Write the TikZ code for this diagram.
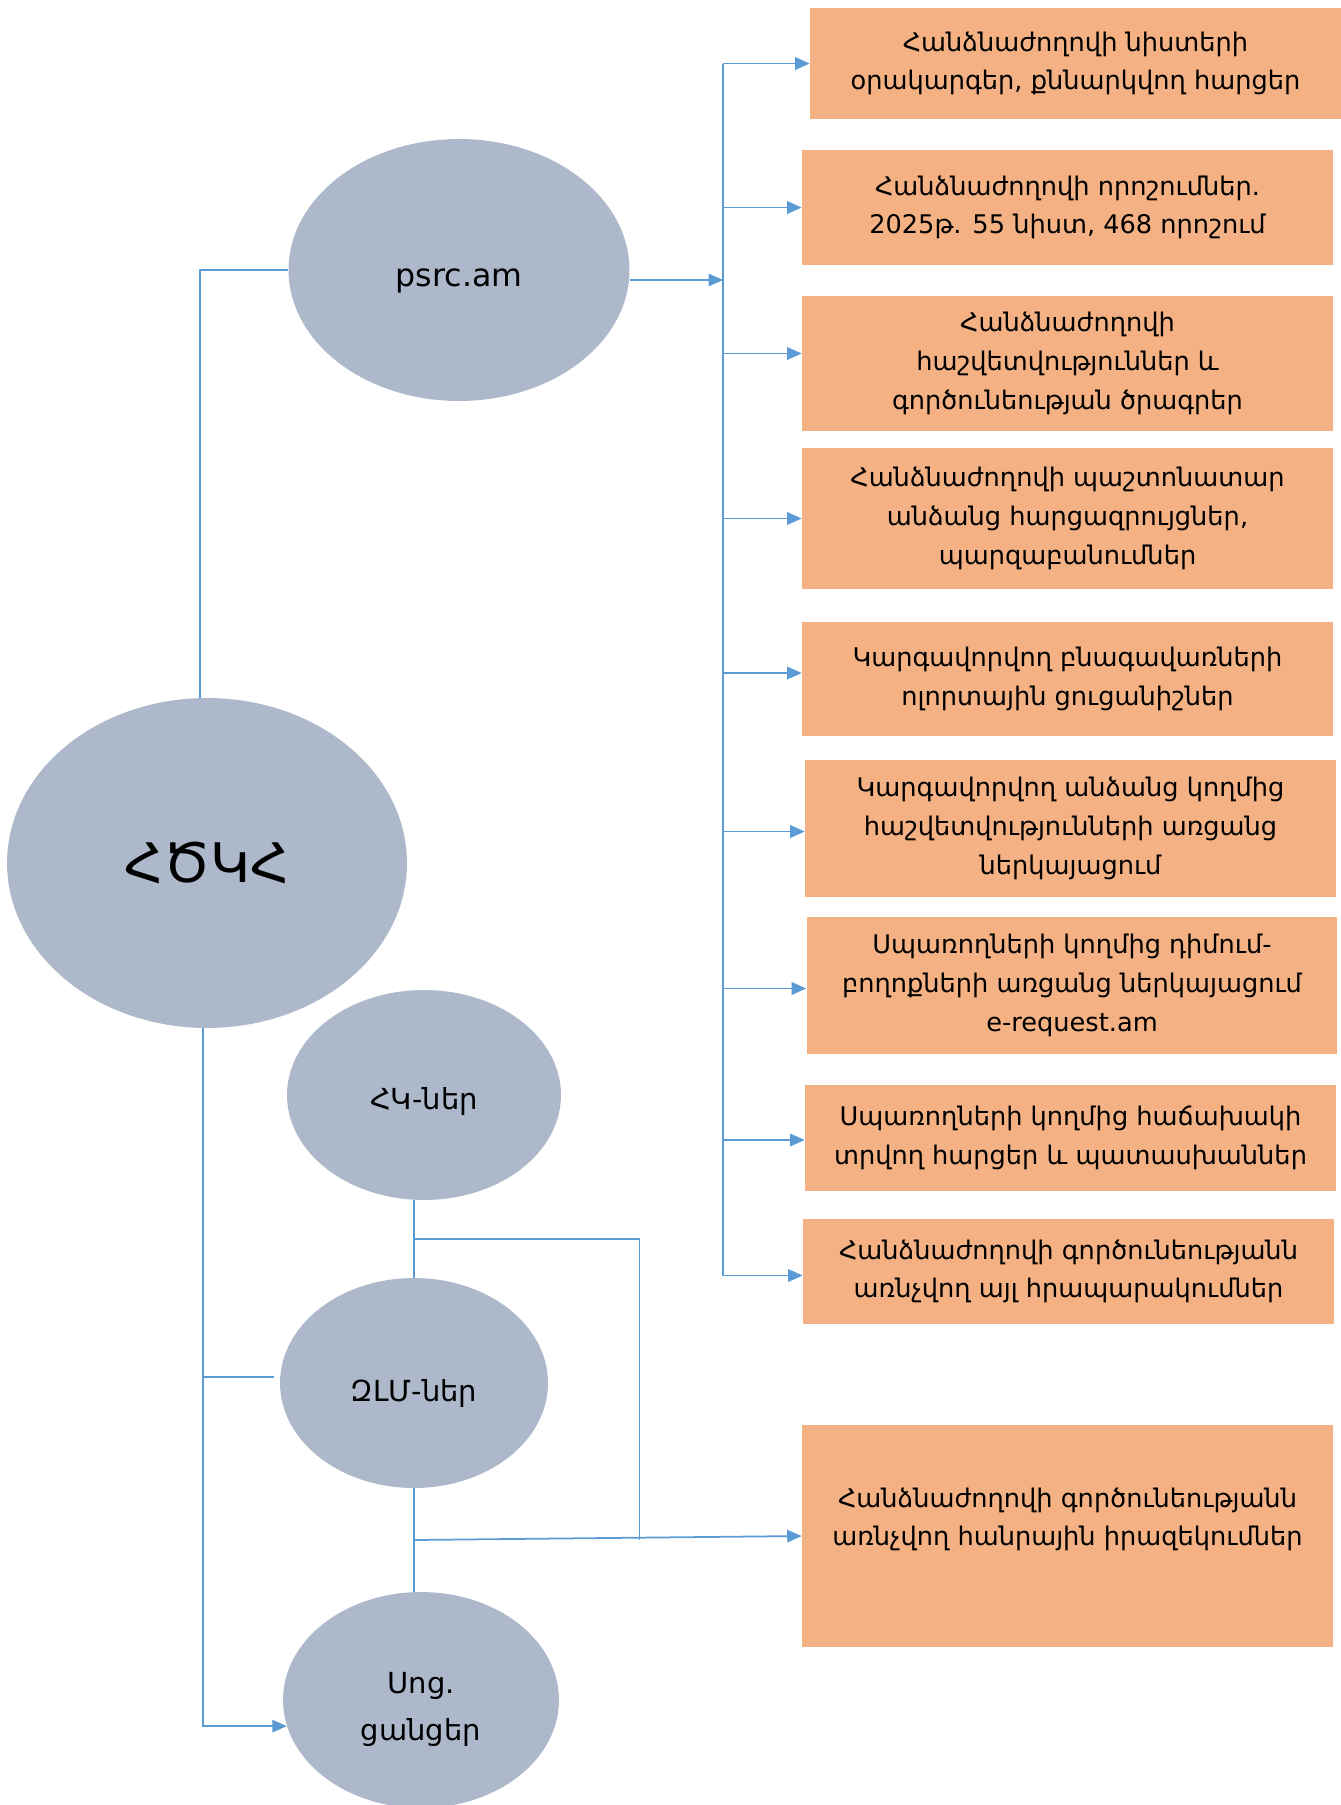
\documentclass[tikz,border=0pt]{standalone}
\usepackage{fontspec}
\setmainfont{DejaVu Sans}
\usetikzlibrary{arrows.meta,shapes.geometric,calc}
\definecolor{slate}{RGB}{173,185,202}
\definecolor{peach}{RGB}{244,177,131}
\definecolor{wire}{RGB}{91,155,213}
\tikzset{
  >={Triangle[length=2.9mm,width=2.5mm]},
  blob/.style={ellipse,fill=slate,inner sep=0pt,align=center,
    font=\fontsize{16.5}{27}\selectfont},
  sink/.style={text height=#1,text depth=4pt},
  card/.style={fill=peach,minimum width=10.62cm,minimum height=#1,inner sep=0pt,
    align=center,font=\fontsize{14.6}{22}\selectfont},
  card/.default=2.3cm,
  link/.style={draw=wire,line width=1pt},
  flow/.style={link,->},
}
\newcommand{\comma}{,}

\begin{document}
\begin{tikzpicture}[x=0.02cm,y=-0.02cm]
  \useasboundingbox (0,0) rectangle (1341,1805);
  % ellipses
  \node[blob,minimum width=8cm,minimum height=6.6cm,font=\fontsize{31}{38}\selectfont] (hskh) at (207,863) {ՀԾԿՀ};
  \node[blob,sink=23pt,minimum width=6.82cm,minimum height=5.24cm,font=\fontsize{18}{24}\selectfont] (psrc) at (459,270) {psrc.am};
  \node[blob,sink=20pt,minimum width=5.48cm,minimum height=4.2cm] (hk) at (424,1095) {ՀԿ-ներ};
  \node[blob,sink=25pt,minimum width=5.36cm,minimum height=4.2cm] (zlm) at (414,1383) {ԶԼՄ-ներ};
  \node[blob,minimum width=5.52cm,minimum height=4.32cm] (soc) at (421,1700) {\\[-4pt]Սոց.\\ցանցեր};
  % boxes
  \coordinate (bus) at (723,0);
  \foreach \x/\y/\h/\o/\t [count=\i] in {
    1075.5/63.5/2.22cm/0/{Հանձնաժողովի նիստերի\\օրակարգեր\comma{} քննարկվող հարցեր},
    1067.5/207.5/2.3cm/0/{Հանձնաժողովի որոշումներ.\\2025թ. 55 նիստ\comma{} 468 որոշում},
    1067.5/363.5/2.7cm/10/{Հանձնաժողովի\\հաշվետվություններ և\\գործունեության ծրագրեր},
    1067.5/518.5/2.82cm/0/{Հանձնաժողովի պաշտոնատար\\անձանց հարցազրույցներ\comma\\պարզաբանումներ},
    1067.5/679/2.28cm/6/{Կարգավորվող բնագավառների\\ոլորտային ցուցանիշներ},
    1070.5/828.5/2.74cm/-3/{Կարգավորվող անձանց կողմից\\հաշվետվությունների առցանց\\ներկայացում},
    1072/985.5/2.74cm/-3/{Սպառողների կողմից դիմում-\\բողոքների առցանց ներկայացում\\e-request.am},
    1070.5/1138/2.12cm/-2/{Սպառողների կողմից հաճախակի\\տրվող հարցեր և պատասխաններ},
    1068.5/1271.5/2.1cm/-4/{Հանձնաժողովի գործունեությանն\\առնչվող այլ հրապարակումներ},
    1067.5/1536/4.44cm/0/{Հանձնաժողովի գործունեությանն\\առնչվող հանրային իրազեկումներ\\\mbox{}}}{
    \node[card=\h] (b\i) at (\x,\y) {\t};
    \coordinate (e\i) at ([yshift=\o*0.02cm]b\i.west);
  }
  \foreach \i in {1,...,9}
    \draw[flow] (bus |- e\i) -- (e\i);
  \draw[link] (bus |- e1) -- (bus |- e9);
  \draw[flow] ($(psrc.east)+(0,10)$) -- ($(bus)+(0,280)$);
  % links from the centre
  \draw[link] ([xshift=-7*0.02cm]hskh.north) |- (psrc.west);
  \draw[flow] ([xshift=-4*0.02cm]hskh.south) |- (soc.191);
  \coordinate (zl) at ([shift={(-6,-6)}]zlm.west);
  \draw[link] ([xshift=-4*0.02cm]hskh.south |- zl) -- (zl);
  \draw[link] (zlm.north) -- (zlm.north |- hk.south);
  \draw[link] (zlm.south) -- (zlm.south |- soc.north);
  \coordinate (m1) at ($(hk.south)!0.5!(zlm.north)$);
  \coordinate (m2) at ($(zlm.south)!0.5!(soc.north)$);
  \coordinate (j) at ($(m2)+(222,0)$);
  \draw[link] (zlm.north |- m1) -| (j);
  \draw[flow] (zlm.south |- m2) -- (b10.west);
\end{tikzpicture}
\end{document}
